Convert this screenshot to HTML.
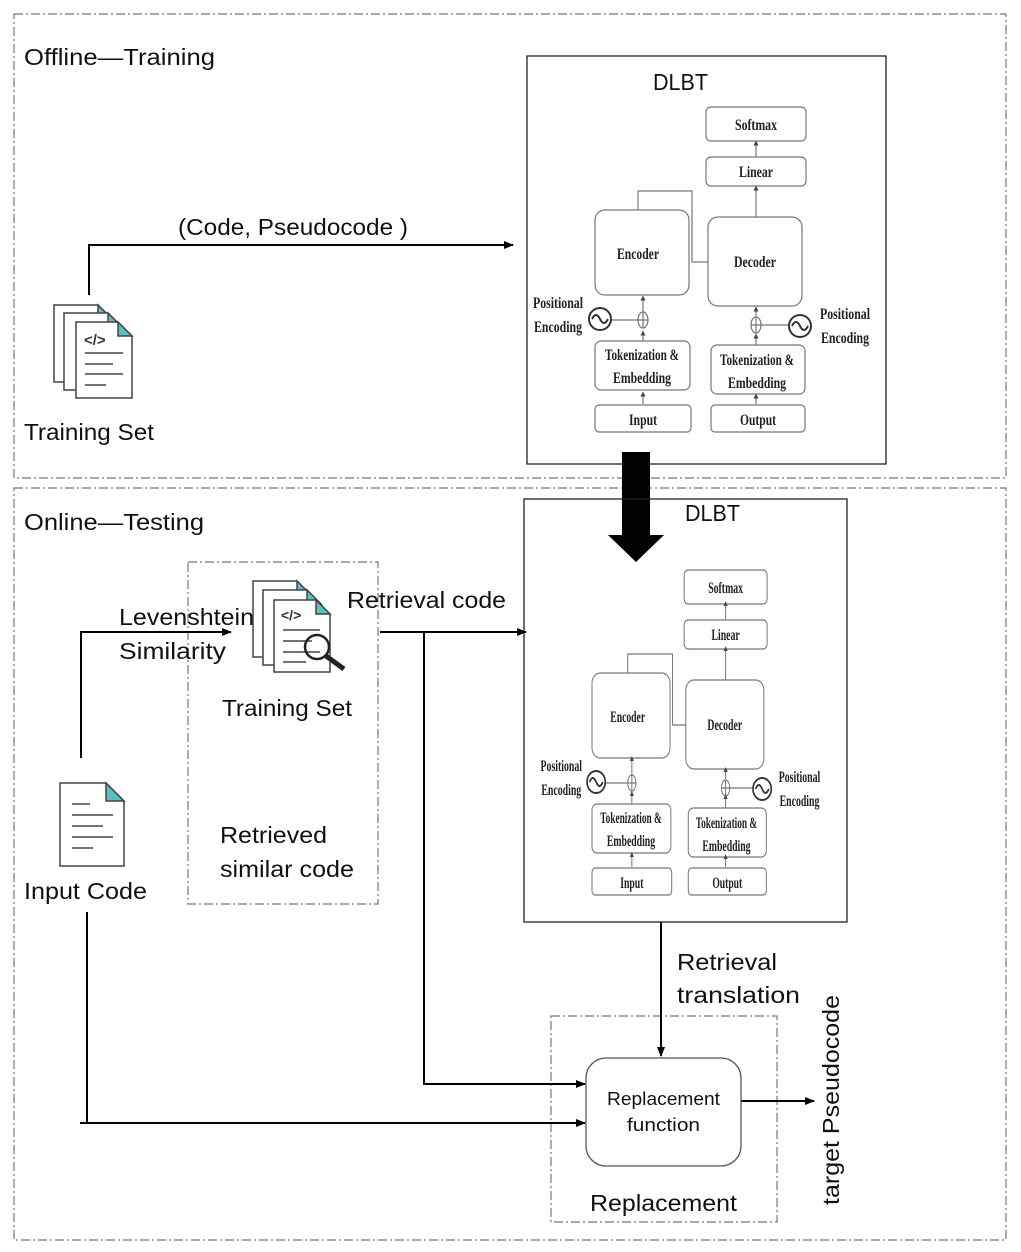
<!DOCTYPE html>
<html><head><meta charset="utf-8"><style>
html,body{margin:0;padding:0;background:#fff;}
svg{display:block;}
.sa{font-family:"Liberation Sans",sans-serif;fill:#111;}
.sr{font-family:"Liberation Serif",serif;font-weight:bold;fill:#222;}
</style></head><body>
<svg width="1021" height="1252" viewBox="0 0 1021 1252" xmlns="http://www.w3.org/2000/svg">
<defs>
<marker id="ar" markerWidth="10" markerHeight="8" refX="9" refY="4" orient="auto" markerUnits="userSpaceOnUse">
<path d="M0,0 L10,4 L0,8 z" fill="#000"/></marker>
<marker id="sm" markerWidth="5" markerHeight="5" refX="2.5" refY="2.5" orient="auto" markerUnits="userSpaceOnUse">
<path d="M0,0 L5,2.5 L0,5 z" fill="#444"/></marker>
</defs>
<rect width="1021" height="1252" fill="#fff"/>
<g fill="none" stroke="#777" stroke-width="1.2" stroke-dasharray="9,3,2,3">
<rect x="14" y="14" width="992" height="464"/>
<rect x="14" y="488" width="992" height="752"/>
<rect x="188" y="562" width="190" height="342"/>
<rect x="551" y="1016" width="226" height="206"/>
</g>
<text class="sa" x="24" y="65" font-size="23" textLength="191" lengthAdjust="spacingAndGlyphs">Offline—Training</text>
<text class="sa" x="24" y="530" font-size="23" textLength="180" lengthAdjust="spacingAndGlyphs">Online—Testing</text>

<rect x="527" y="56" width="359" height="408" fill="none" stroke="#222" stroke-width="1.3"/>
<text class="sa" x="653" y="90" font-size="23" textLength="55" lengthAdjust="spacingAndGlyphs">DLBT</text>
<g>
<g fill="none" stroke="#777" stroke-width="1.2">
<rect x="706" y="107" width="100" height="34" rx="5"/>
<rect x="706" y="157" width="100" height="29" rx="5"/>
<rect x="595" y="210" width="94" height="85" rx="10"/>
<rect x="708" y="217" width="94" height="89" rx="10"/>
<rect x="595" y="341" width="95" height="49" rx="6"/>
<rect x="711" y="345" width="94" height="49" rx="6"/>
<rect x="595" y="405" width="96" height="27" rx="4"/>
<rect x="711" y="405" width="94" height="27" rx="4"/>
<path d="M638,210 V191 H692 V262 H708"/>
<path d="M756,217 V188" marker-end="url(#sm)"/>
<path d="M756,157 V143" marker-end="url(#sm)"/>
<path d="M643,341 V333" marker-end="url(#sm)"/>
<path d="M643,312 V298" marker-end="url(#sm)"/>
<path d="M643,404 V394" marker-end="url(#sm)"/>
<path d="M756,345 V336" marker-end="url(#sm)"/>
<path d="M756,316 V309" marker-end="url(#sm)"/>
<path d="M756,404 V396" marker-end="url(#sm)"/>
<ellipse cx="643" cy="320" rx="5" ry="8"/><path d="M638,320 H648 M643,312 V328"/>
<ellipse cx="756" cy="325" rx="5" ry="8"/><path d="M751,325 H761 M756,317 V333"/>
<path d="M611,320 H638 M761,325 H789"/>
</g>
<g fill="none" stroke="#333" stroke-width="2">
<circle cx="600" cy="319" r="11"/><path d="M592,319 q4,-8 8,0 t8,0"/>
<circle cx="800" cy="326" r="11"/><path d="M792,326 q4,-8 8,0 t8,0"/>
</g>
<g class="sr" font-size="16" text-anchor="middle">
<text x="756" y="130" textLength="42" lengthAdjust="spacingAndGlyphs">Softmax</text>
<text x="756" y="177" textLength="34" lengthAdjust="spacingAndGlyphs">Linear</text>
<text x="638" y="259" textLength="42" lengthAdjust="spacingAndGlyphs">Encoder</text>
<text x="755" y="267" textLength="42" lengthAdjust="spacingAndGlyphs">Decoder</text>
<text x="642" y="360" textLength="74" lengthAdjust="spacingAndGlyphs">Tokenization &amp;</text>
<text x="642" y="383" textLength="58" lengthAdjust="spacingAndGlyphs">Embedding</text>
<text x="757" y="365" textLength="74" lengthAdjust="spacingAndGlyphs">Tokenization &amp;</text>
<text x="757" y="388" textLength="58" lengthAdjust="spacingAndGlyphs">Embedding</text>
<text x="643" y="425" textLength="28" lengthAdjust="spacingAndGlyphs">Input</text>
<text x="758" y="425" textLength="36" lengthAdjust="spacingAndGlyphs">Output</text>
<text x="558" y="308" textLength="50" lengthAdjust="spacingAndGlyphs">Positional</text>
<text x="558" y="332" textLength="48" lengthAdjust="spacingAndGlyphs">Encoding</text>
<text x="845" y="319" textLength="50" lengthAdjust="spacingAndGlyphs">Positional</text>
<text x="845" y="343" textLength="48" lengthAdjust="spacingAndGlyphs">Encoding</text>
</g>
</g>

<path d="M622,452 H650 V535 H664 L636,562 L608,535 H622 Z" fill="#000"/>

<rect x="524" y="499" width="323" height="423" fill="none" stroke="#222" stroke-width="1.3"/>
<text class="sa" x="685" y="521" font-size="23" textLength="55" lengthAdjust="spacingAndGlyphs">DLBT</text>
<g transform="matrix(0.83,0,0,1,98.15,463)">
<g fill="none" stroke="#777" stroke-width="1.2">
<rect x="706" y="107" width="100" height="34" rx="5"/>
<rect x="706" y="157" width="100" height="29" rx="5"/>
<rect x="595" y="210" width="94" height="85" rx="10"/>
<rect x="708" y="217" width="94" height="89" rx="10"/>
<rect x="595" y="341" width="95" height="49" rx="6"/>
<rect x="711" y="345" width="94" height="49" rx="6"/>
<rect x="595" y="405" width="96" height="27" rx="4"/>
<rect x="711" y="405" width="94" height="27" rx="4"/>
<path d="M638,210 V191 H692 V262 H708"/>
<path d="M756,217 V188"/><path d="M756,157 V143"/>
<path d="M643,341 V333"/><path d="M643,312 V298"/><path d="M643,404 V394"/>
<path d="M756,345 V336"/><path d="M756,316 V309"/><path d="M756,404 V396"/>
<ellipse cx="643" cy="320" rx="5" ry="8"/><path d="M638,320 H648 M643,312 V328"/>
<ellipse cx="756" cy="325" rx="5" ry="8"/><path d="M751,325 H761 M756,317 V333"/>
<path d="M611,320 H638 M761,325 H789"/>
</g>
<g fill="#444">
<path d="M753.5,188 h5 l-2.5,-5 z M753.5,143 h5 l-2.5,-5 z M640.5,333 h5 l-2.5,-5 z M640.5,298 h5 l-2.5,-5 z M640.5,394 h5 l-2.5,-5 z M753.5,336 h5 l-2.5,-5 z M753.5,309 h5 l-2.5,-5 z M753.5,396 h5 l-2.5,-5 z"/>
</g>
<g fill="none" stroke="#333" stroke-width="2">
<ellipse cx="600" cy="319" rx="11" ry="11"/><path d="M592,319 q4,-8 8,0 t8,0"/>
<ellipse cx="800" cy="326" rx="11" ry="11"/><path d="M792,326 q4,-8 8,0 t8,0"/>
</g>
<g class="sr" font-size="16" text-anchor="middle">
<text x="756" y="130" textLength="42" lengthAdjust="spacingAndGlyphs">Softmax</text>
<text x="756" y="177" textLength="34" lengthAdjust="spacingAndGlyphs">Linear</text>
<text x="638" y="259" textLength="42" lengthAdjust="spacingAndGlyphs">Encoder</text>
<text x="755" y="267" textLength="42" lengthAdjust="spacingAndGlyphs">Decoder</text>
<text x="642" y="360" textLength="74" lengthAdjust="spacingAndGlyphs">Tokenization &amp;</text>
<text x="642" y="383" textLength="58" lengthAdjust="spacingAndGlyphs">Embedding</text>
<text x="757" y="365" textLength="74" lengthAdjust="spacingAndGlyphs">Tokenization &amp;</text>
<text x="757" y="388" textLength="58" lengthAdjust="spacingAndGlyphs">Embedding</text>
<text x="643" y="425" textLength="28" lengthAdjust="spacingAndGlyphs">Input</text>
<text x="758" y="425" textLength="36" lengthAdjust="spacingAndGlyphs">Output</text>
<text x="558" y="308" textLength="50" lengthAdjust="spacingAndGlyphs">Positional</text>
<text x="558" y="332" textLength="48" lengthAdjust="spacingAndGlyphs">Encoding</text>
<text x="845" y="319" textLength="50" lengthAdjust="spacingAndGlyphs">Positional</text>
<text x="845" y="343" textLength="48" lengthAdjust="spacingAndGlyphs">Encoding</text>
</g>
</g>

<g fill="none" stroke="#000" stroke-width="2">
<path d="M89,295 V245 H513" marker-end="url(#ar)"/>
<path d="M81,758 V632 H231" marker-end="url(#ar)"/>
<path d="M380,632 H526" marker-end="url(#ar)"/>
<path d="M424,633 V1084 H585" marker-end="url(#ar)"/>
<path d="M87,912 V1123"/>
<path d="M80,1123 H585" marker-end="url(#ar)"/>
<path d="M661,922 V1056" marker-end="url(#ar)"/>
<path d="M741,1101 H814" marker-end="url(#ar)"/>
</g>

<g class="sa" font-size="23">
<text x="178" y="235" textLength="230" lengthAdjust="spacingAndGlyphs">(Code, Pseudocode )</text>
<text x="24" y="440" textLength="130" lengthAdjust="spacingAndGlyphs">Training Set</text>
<text x="119" y="625" textLength="135" lengthAdjust="spacingAndGlyphs">Levenshtein</text>
<text x="119" y="659" textLength="107" lengthAdjust="spacingAndGlyphs">Similarity</text>
<text x="347" y="608" textLength="159" lengthAdjust="spacingAndGlyphs">Retrieval code</text>
<text x="222" y="716" textLength="130" lengthAdjust="spacingAndGlyphs">Training Set</text>
<text x="220" y="843" textLength="107" lengthAdjust="spacingAndGlyphs">Retrieved</text>
<text x="220" y="877" textLength="134" lengthAdjust="spacingAndGlyphs">similar code</text>
<text x="24" y="899" textLength="123" lengthAdjust="spacingAndGlyphs">Input Code</text>
<text x="677" y="970" textLength="100" lengthAdjust="spacingAndGlyphs">Retrieval</text>
<text x="677" y="1003" textLength="123" lengthAdjust="spacingAndGlyphs">translation</text>
</g>
<rect x="586" y="1058" width="155" height="108" rx="20" fill="#fff" stroke="#555" stroke-width="1.3"/>
<text class="sa" x="607" y="1105" font-size="18" textLength="113" lengthAdjust="spacingAndGlyphs">Replacement</text>
<text class="sa" x="627" y="1131" font-size="18" textLength="73" lengthAdjust="spacingAndGlyphs">function</text>
<text class="sa" x="590" y="1211" font-size="23" textLength="147" lengthAdjust="spacingAndGlyphs">Replacement</text>
<text class="sa" x="0" y="0" font-size="23" text-anchor="middle" textLength="210" lengthAdjust="spacingAndGlyphs" transform="translate(839,1100) rotate(-90)">target Pseudocode</text>

<g stroke="#444" stroke-width="1.5" fill="#fff">
<path d="M54,305 H98 L112,319 V382 H54 Z"/><path d="M98,305 L112,319 H98 Z" fill="#5bbfc6"/>
<path d="M64,313 H108 L122,327 V390 H64 Z"/><path d="M108,313 L122,327 H108 Z" fill="#5bbfc6"/>
<path d="M76,322 H118 L132,336 V398 H76 Z"/><path d="M118,322 L132,336 H118 Z" fill="#5bbfc6"/>
<path d="M85,353 H123 M85,364 H113 M85,374 H123 M85,385 H106" fill="none"/>
</g>
<text x="84" y="345" font-family="Liberation Sans,sans-serif" font-size="15" font-weight="bold" fill="#333">&lt;/&gt;</text>

<g stroke="#444" stroke-width="1.5" fill="#fff">
<path d="M253,581 H297 L311,595 V657 H253 Z"/><path d="M297,581 L311,595 H297 Z" fill="#5bbfc6"/>
<path d="M263,590 H307 L321,604 V665 H263 Z"/><path d="M307,590 L321,604 H307 Z" fill="#5bbfc6"/>
<path d="M274,600 H316 L330,614 V672 H274 Z"/><path d="M316,600 L330,614 H316 Z" fill="#5bbfc6"/>
<path d="M283,630 H320 M283,641 H312 M283,652 H320 M283,662 H306" fill="none"/>
<circle cx="317" cy="647" r="12" fill="none" stroke="#222" stroke-width="2.5"/>
<path d="M326,656 L344,669" stroke="#222" stroke-width="5" fill="none"/>
</g>
<text x="281" y="620" font-family="Liberation Sans,sans-serif" font-size="14" font-weight="bold" fill="#333">&lt;/&gt;</text>

<g stroke="#444" stroke-width="1.5" fill="#fff">
<path d="M60,783 H106 L124,801 V866 H60 Z"/><path d="M106,783 L124,801 H106 Z" fill="#5bbfc6"/>
<path d="M72,804 H90 M72,815 H113 M72,826 H103 M72,837 H113 M72,848 H93" fill="none"/>
</g>
</svg>
</body></html>
